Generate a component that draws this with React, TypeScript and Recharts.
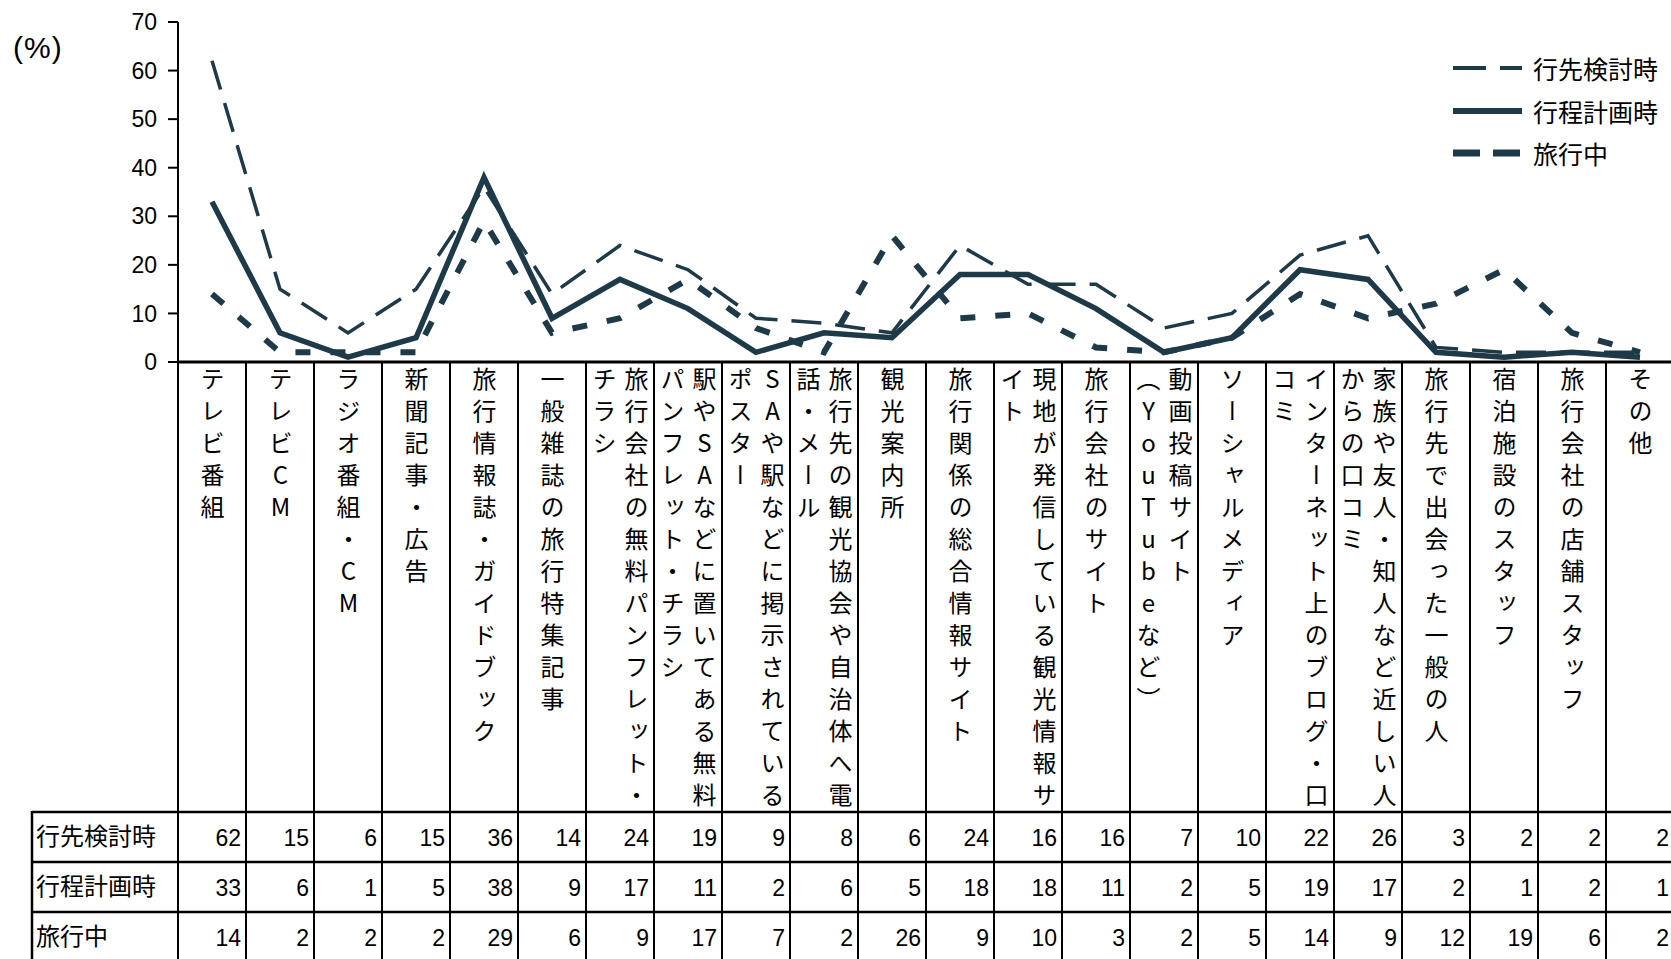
import { LineChart, Line, XAxis, YAxis } from "recharts";

const categories = [
  "テレビ番組",
  "テレビCM",
  "ラジオ番組・CM",
  "新聞記事・広告",
  "旅行情報誌・ガイドブック",
  "一般雑誌の旅行特集記事",
  "旅行会社の無料パンフレット・\nチラシ",
  "駅やSAなどに置いてある無料\nパンフレット・チラシ",
  "SAや駅などに掲示されている\nポスター",
  "旅行先の観光協会や自治体へ電\n話・メール",
  "観光案内所",
  "旅行関係の総合情報サイト",
  "現地が発信している観光情報サ\nイト",
  "旅行会社のサイト",
  "動画投稿サイト\n（YouTubeなど）",
  "ソーシャルメディア",
  "インターネット上のブログ・口\nコミ",
  "家族や友人・知人など近しい人\nからの口コミ",
  "旅行先で出会った一般の人",
  "宿泊施設のスタッフ",
  "旅行会社の店舗スタッフ",
  "その他",
];

const considering = [62, 15, 6, 15, 36, 14, 24, 19, 9, 8, 6, 24, 16, 16, 7, 10, 22, 26, 3, 2, 2, 2];
const planning = [33, 6, 1, 5, 38, 9, 17, 11, 2, 6, 5, 18, 18, 11, 2, 5, 19, 17, 2, 1, 2, 1];
const traveling = [14, 2, 2, 2, 29, 6, 9, 17, 7, 2, 26, 9, 10, 3, 2, 5, 14, 9, 12, 19, 6, 2];

const seriesNames = ["行先検討時", "行程計画時", "旅行中"];
const yTicks = [0, 10, 20, 30, 40, 50, 60, 70];

const data = categories.map((c, i) => ({
  name: c,
  considering: considering[i],
  planning: planning[i],
  traveling: traveling[i],
}));
const rows = [considering, planning, traveling];

const INK = "#1e3a48";
const JP = '"Noto Sans CJK JP", sans-serif';
const LATIN = '"Liberation Sans", Arial, sans-serif';

const TOP = 22;
const PLOT_H = 340;
const Y0 = TOP + PLOT_H; // x axis line
const LEFT = 178;
const COL = 68;
const HEAD_H = 450;
const ROW_H = 50;
const TABLE_LEFT = 32;

function CategoryTick(props: any) {
  const { x, index, payload } = props;
  const half = COL / 2;
  const lines = String(payload.value).split("\n");
  const tableTop = Y0 + HEAD_H;
  return (
    <g>
      <line x1={x - half} y1={Y0} x2={x - half} y2={Y0 + HEAD_H + ROW_H * 3} stroke="#000" strokeWidth={2} />
      <foreignObject x={x - half} y={Y0 + 5} width={COL} height={HEAD_H - 5}>
        <div style={{ display: "flex", justifyContent: "center", width: COL }}>
          <div
            style={{
              writingMode: "vertical-rl",
              textOrientation: "upright",
              whiteSpace: "pre",
              fontFamily: JP,
              fontSize: 24,
              letterSpacing: 8,
              lineHeight: "32px",
              color: "#000",
            }}
          >
            {lines.join("\n")}
          </div>
        </div>
      </foreignObject>
      {rows.map((r, ri) => (
        <g key={ri}>
          <line x1={x - half} y1={tableTop + ri * ROW_H} x2={x + half} y2={tableTop + ri * ROW_H} stroke="#000" strokeWidth={2.5} />
          <text x={x + half - 5} y={tableTop + ri * ROW_H + 34} textAnchor="end" fontFamily={LATIN} fontSize={23} fill="#000">
            {r[index]}
          </text>
        </g>
      ))}
      {index === 0 && (
        <g>
          <line x1={TABLE_LEFT} y1={tableTop - 1} x2={TABLE_LEFT} y2={tableTop + ROW_H * 3} stroke="#000" strokeWidth={2.5} />
          {seriesNames.map((s, ri) => (
            <g key={s}>
              <line x1={TABLE_LEFT} y1={tableTop + ri * ROW_H} x2={LEFT} y2={tableTop + ri * ROW_H} stroke="#000" strokeWidth={2.5} />
              <text x={TABLE_LEFT + 4} y={tableTop + ri * ROW_H + 33} fontFamily={JP} fontSize={24} fill="#000">
                {s}
              </text>
            </g>
          ))}
        </g>
      )}
    </g>
  );
}

const legendStyles = [
  { width: 4, dash: "33 14" },
  { width: 6, dash: undefined },
  { width: 7, dash: "27 13" },
];

function LegendBox() {
  return (
    <div style={{ position: "absolute", left: 1446, top: 47, width: 225 }}>
      {seriesNames.map((s, i) => (
        <div key={s} style={{ display: "flex", alignItems: "center", height: 42.5 }}>
          <svg width={80} height={20} style={{ flex: "none" }}>
            <line x1={7} y1={10} x2={76} y2={10} stroke={INK} strokeWidth={legendStyles[i].width} strokeDasharray={legendStyles[i].dash} />
          </svg>
          <span style={{ fontFamily: JP, fontSize: 25, lineHeight: "30px", whiteSpace: "nowrap", marginLeft: 7, color: "#000" }}>{s}</span>
        </div>
      ))}
    </div>
  );
}

export default function App() {
  return (
    <div style={{ position: "absolute", left: 0, top: 0, width: 1671, height: 959, overflow: "hidden", background: "#fff" }}>
      <div style={{ position: "absolute", left: 13, top: 31, fontFamily: LATIN, fontSize: 30, color: "#000", letterSpacing: 1 }}>(%)</div>
      <LineChart
        width={1680}
        height={TOP + PLOT_H + HEAD_H + ROW_H * 3}
        data={data}
        margin={{ top: TOP, right: 1680 - LEFT - COL * categories.length, left: 0, bottom: 0 }}
      >
        <XAxis
          dataKey="name"
          interval={0}
          height={HEAD_H + ROW_H * 3}
          padding={{ left: COL / 2, right: COL / 2 }}
          axisLine={{ stroke: "#000", strokeWidth: 3 }}
          tickLine={false}
          tick={<CategoryTick />}
        />
        <YAxis
          width={LEFT}
          domain={[0, 70]}
          ticks={yTicks}
          interval={0}
          axisLine={{ stroke: "#000", strokeWidth: 2 }}
          tickLine={{ stroke: "#000", strokeWidth: 2 }}
          tickSize={10}
          tickMargin={11}
          tick={{ fill: "#000", fontSize: 23, fontFamily: LATIN }}
        />
        <Line
          dataKey="considering"
          name={seriesNames[0]}
          stroke={INK}
          strokeWidth={3.5}
          strokeDasharray="30 14"
          dot={false}
          activeDot={false}
          isAnimationActive={false}
        />
        <Line
          dataKey="planning"
          name={seriesNames[1]}
          stroke={INK}
          strokeWidth={5.5}
          dot={false}
          activeDot={false}
          isAnimationActive={false}
        />
        <Line
          dataKey="traveling"
          name={seriesNames[2]}
          stroke={INK}
          strokeWidth={6}
          strokeDasharray="15 20"
          dot={false}
          activeDot={false}
          isAnimationActive={false}
        />
      </LineChart>
      <LegendBox />
    </div>
  );
}
